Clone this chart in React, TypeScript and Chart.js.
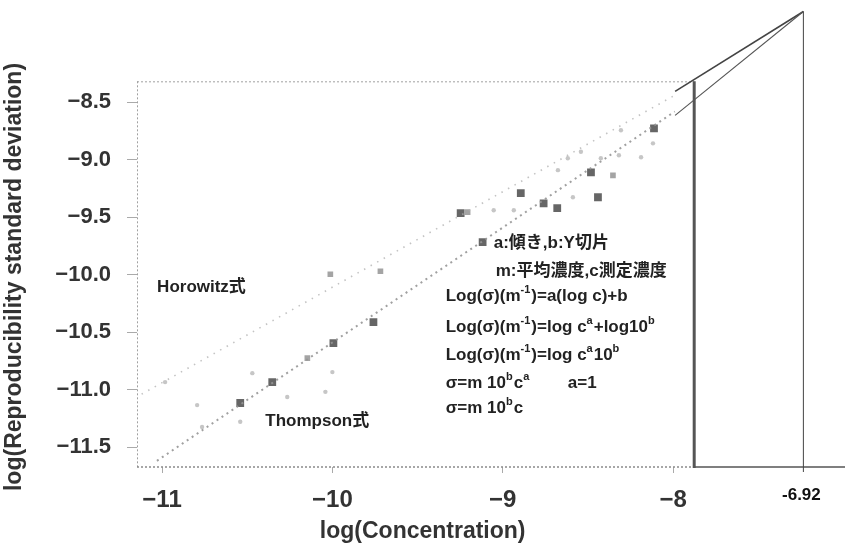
import React, { useEffect, useRef } from 'react';
import { Chart, registerables } from 'chart.js';

Chart.register(...registerables);

const FONT = '"Liberation Sans", Arial, "Noto Sans CJK JP", sans-serif';

// Axis setup
const X_TICKS = [-11, -10, -9, -8];
const Y_TICKS = [-8.5, -9, -9.5, -10, -10.5, -11, -11.5];
const X_MIN = -11.147;
const X_MAX = -7.023;
const Y_MIN = -11.674;
const Y_MAX = -7.657;

// Dark (dense) measurement points
const darkX = [-8.112, -8.482, -8.441, -8.76, -8.68, -8.894, -9.247, -9.118, -9.759, -10.353, -9.994, -10.541];
const darkY = [-8.726, -9.109, -9.326, -9.38, -9.42, -9.291, -9.465, -9.717, -10.413, -10.935, -10.596, -11.117];

// Medium grey points
const midX = [-10.012, -9.718, -10.147, -8.353, -9.206];
const midY = [-9.996, -9.97, -10.726, -9.135, -9.456];

// Light grey points
const lightX = [-8.318, -8.424, -8.306, -8.118, -8.676, -8.588, -9.053, -8.935, -10.265, -10.041, -10.0, -10.794, -10.541, -10.982, -10.47, -10.765, -8.188, -8.618, -8.541];
const lightY = [-8.961, -8.987, -8.743, -8.857, -9.09, -9.326, -9.439, -9.439, -11.065, -11.02, -10.848, -11.135, -11.28, -10.935, -10.857, -11.326, -8.978, -8.987, -8.93];

// Reference lines (end points)
const thompsonX = [-11.03, -7.99];
const thompsonY = [-11.62, -8.58];
const horowitzX = [-11.12, -7.98];
const horowitzY = [-11.04, -8.43];

// Schematic frame / annotation geometry (data units)
const FRAME_TOP = -8.317;
const FRAME_RIGHT = -7.876;
const MARK_X = -7.235; // position of the "-6.92" line
const MARK_TOP = -7.709;
const DIAG_END_X = -7.988;
const DIAG1_END_Y = -8.404;
const DIAG2_END_Y = -8.613;
const MARK_LABEL = '-6.92';

const X_TITLE = 'log(Concentration)';
const Y_TITLE = 'log(Reproducibility standard deviation)';

type Seg = { t: string; sup?: boolean };
const NOTES: { x: number; y: number; segs: Seg[] }[] = [
  { x: -9.053, y: -9.726, segs: [{ t: 'a:傾き,b:Y切片' }] },
  { x: -9.041, y: -9.97, segs: [{ t: 'm:平均濃度,c測定濃度' }] },
  { x: -9.335, y: -10.187, segs: [{ t: 'Log(σ)(m' }, { t: '-1', sup: true }, { t: ')=a(log c)+b' }] },
  { x: -9.335, y: -10.457, segs: [{ t: 'Log(σ)(m' }, { t: '-1', sup: true }, { t: ')=log c' }, { t: 'a', sup: true }, { t: '+log10' }, { t: 'b', sup: true }] },
  { x: -9.335, y: -10.7, segs: [{ t: 'Log(σ)(m' }, { t: '-1', sup: true }, { t: ')=log c' }, { t: 'a', sup: true }, { t: '10' }, { t: 'b', sup: true }] },
  { x: -9.335, y: -10.943, segs: [{ t: 'σ=m 10' }, { t: 'b', sup: true }, { t: 'c' }, { t: 'a', sup: true }] },
  { x: -8.618, y: -10.943, segs: [{ t: 'a=1' }] },
  { x: -9.335, y: -11.161, segs: [{ t: 'σ=m 10' }, { t: 'b', sup: true }, { t: 'c' }] },
  { x: -11.029, y: -10.109, segs: [{ t: 'Horowitz式' }] },
  { x: -10.394, y: -11.274, segs: [{ t: 'Thompson式' }] },
];

const pts = (xs: number[], ys: number[]) => xs.map((x, i) => ({ x, y: ys[i] }));

const scenePlugin = {
  id: 'scene',
  beforeDatasetsDraw(chart: any) {
    const { ctx, chartArea, scales } = chart;
    const xs = scales.x, ys = scales.y;
    const top = ys.getPixelForValue(FRAME_TOP);
    const right = xs.getPixelForValue(FRAME_RIGHT);
    ctx.save();
    ctx.strokeStyle = '#a0a0a0';
    ctx.lineWidth = 1;
    ctx.setLineDash([2, 2]);
    ctx.beginPath();
    ctx.moveTo(chartArea.left + 0.5, top);
    ctx.lineTo(chartArea.left + 0.5, chartArea.bottom);
    ctx.moveTo(chartArea.left, top + 0.5);
    ctx.lineTo(right, top + 0.5);
    ctx.stroke();
    ctx.strokeStyle = '#8a8a8a';
    ctx.lineWidth = 1.5;
    ctx.beginPath();
    ctx.moveTo(chartArea.left, chartArea.bottom);
    ctx.lineTo(right, chartArea.bottom);
    ctx.stroke();
    ctx.restore();
  },
  afterDatasetsDraw(chart: any) {
    const { ctx, chartArea, scales } = chart;
    const xs = scales.x, ys = scales.y;
    const px = (v: number) => xs.getPixelForValue(v);
    const py = (v: number) => ys.getPixelForValue(v);
    ctx.save();
    ctx.setLineDash([]);
    // thick right frame line
    ctx.strokeStyle = '#555';
    ctx.lineWidth = 3;
    ctx.beginPath();
    ctx.moveTo(px(FRAME_RIGHT), py(FRAME_TOP));
    ctx.lineTo(px(FRAME_RIGHT), chartArea.bottom + 1);
    ctx.stroke();
    // bottom continuation to the picture edge
    ctx.lineWidth = 1.5;
    ctx.beginPath();
    ctx.moveTo(px(FRAME_RIGHT), chartArea.bottom);
    ctx.lineTo(chart.width, chartArea.bottom);
    ctx.stroke();
    // thin mark line
    ctx.strokeStyle = '#444';
    ctx.lineWidth = 1;
    ctx.beginPath();
    ctx.moveTo(px(MARK_X), py(MARK_TOP));
    ctx.lineTo(px(MARK_X), chartArea.bottom + 5);
    ctx.stroke();
    // diagonals
    ctx.lineWidth = 1.6;
    ctx.beginPath();
    ctx.moveTo(px(MARK_X), py(MARK_TOP));
    ctx.lineTo(px(DIAG_END_X), py(DIAG1_END_Y));
    ctx.stroke();
    ctx.lineWidth = 1.1;
    ctx.strokeStyle = '#555';
    ctx.beginPath();
    ctx.moveTo(px(MARK_X), py(MARK_TOP));
    ctx.lineTo(px(DIAG_END_X), py(DIAG2_END_Y));
    ctx.stroke();

    // "-6.92" label
    ctx.fillStyle = '#111';
    ctx.font = `bold 17px ${FONT}`;
    ctx.textAlign = 'center';
    ctx.textBaseline = 'middle';
    ctx.fillText(MARK_LABEL, px(MARK_X) - 2, chartArea.bottom + 28);

    // annotation texts
    const size = 17;
    ctx.fillStyle = '#222';
    ctx.textAlign = 'left';
    ctx.textBaseline = 'middle';
    for (const n of NOTES) {
      let cx = px(n.x);
      const cy = py(n.y);
      for (const s of n.segs) {
        ctx.font = s.sup ? `bold ${Math.round(size * 0.62)}px ${FONT}` : `bold ${size}px ${FONT}`;
        ctx.fillText(s.t, cx, s.sup ? cy - size * 0.36 : cy);
        cx += ctx.measureText(s.t).width + (s.sup ? 1 : 0);
      }
    }

    // axis titles
    ctx.fillStyle = '#333';
    ctx.font = `bold 23px ${FONT}`;
    ctx.textAlign = 'center';
    ctx.textBaseline = 'middle';
    ctx.fillText(X_TITLE, px(-9.47), chartArea.bottom + 65);
    ctx.save();
    ctx.translate(21, py(-10.02));
    ctx.rotate(-Math.PI / 2);
    ctx.textBaseline = 'alphabetic';
    ctx.fillText(Y_TITLE, 0, 0);
    ctx.restore();
    ctx.restore();
  },
};

export default function App() {
  const ref = useRef<HTMLCanvasElement | null>(null);
  useEffect(() => {
    document.body.style.margin = '0';
    if (!ref.current) return;
    const chart = new Chart(ref.current, {
      type: 'scatter',
      data: {
        datasets: [
          {
            label: 'Horowitz',
            data: pts(horowitzX, horowitzY),
            showLine: true,
            borderColor: 'rgba(175,175,175,0.75)',
            borderWidth: 1.6,
            borderDash: [1.5, 6],
            pointRadius: 0,
          },
          {
            label: 'Thompson',
            data: pts(thompsonX, thompsonY),
            showLine: true,
            borderColor: 'rgba(150,150,150,0.9)',
            borderWidth: 2,
            borderDash: [2, 4],
            pointRadius: 0,
          },
          {
            label: 'light',
            data: pts(lightX, lightY),
            pointRadius: 2.2,
            pointStyle: 'circle',
            backgroundColor: 'rgba(160,160,160,0.6)',
            borderWidth: 0,
          },
          {
            label: 'mid',
            data: pts(midX, midY),
            pointRadius: 4,
            pointStyle: 'rect',
            backgroundColor: 'rgba(125,125,125,0.7)',
            borderWidth: 0,
          },
          {
            label: 'dark',
            data: pts(darkX, darkY),
            pointRadius: 5.5,
            pointStyle: 'rect',
            backgroundColor: 'rgba(75,75,75,0.85)',
            borderWidth: 0,
          },
        ],
      },
      options: {
        responsive: false,
        animation: false,
        devicePixelRatio: 1,
        layout: { padding: { top: 5, left: 0, right: 0, bottom: 0 } },
        plugins: { legend: { display: false }, tooltip: { enabled: false } },
        scales: {
          x: {
            type: 'linear',
            min: X_MIN,
            max: X_MAX,
            afterBuildTicks: (s: any) => { s.ticks = X_TICKS.map((v) => ({ value: v })); },
            afterFit: (s: any) => { s.height = 87; s.paddingLeft = 0; s.paddingRight = 0; },
            border: { display: false },
            grid: { drawOnChartArea: false, drawTicks: true, tickLength: 6, color: '#aaa' },
            ticks: {
              padding: 13,
              color: '#333',
              font: { family: FONT, size: 24, weight: 'bold' },
              callback: (v: any) => '−' + Math.abs(Number(v)),
              maxRotation: 0,
            },
          },
          y: {
            type: 'linear',
            min: Y_MIN,
            max: Y_MAX,
            afterBuildTicks: (s: any) => { s.ticks = Y_TICKS.map((v) => ({ value: v })); },
            afterFit: (s: any) => { s.width = 137; s.paddingTop = 0; s.paddingBottom = 0; },
            border: { display: false },
            grid: { drawOnChartArea: false, drawTicks: true, tickLength: 10, color: '#aaa' },
            ticks: {
              padding: 16,
              color: '#333',
              font: { family: FONT, size: 22, weight: 'bold' },
              callback: (v: any) => '−' + Math.abs(Number(v)).toFixed(1),
            },
          },
        },
      },
      plugins: [scenePlugin],
    } as any);
    return () => chart.destroy();
  }, []);
  return (
    <canvas ref={ref} width={845} height={554} style={{ display: 'block', width: 845, height: 554 }} />
  );
}
